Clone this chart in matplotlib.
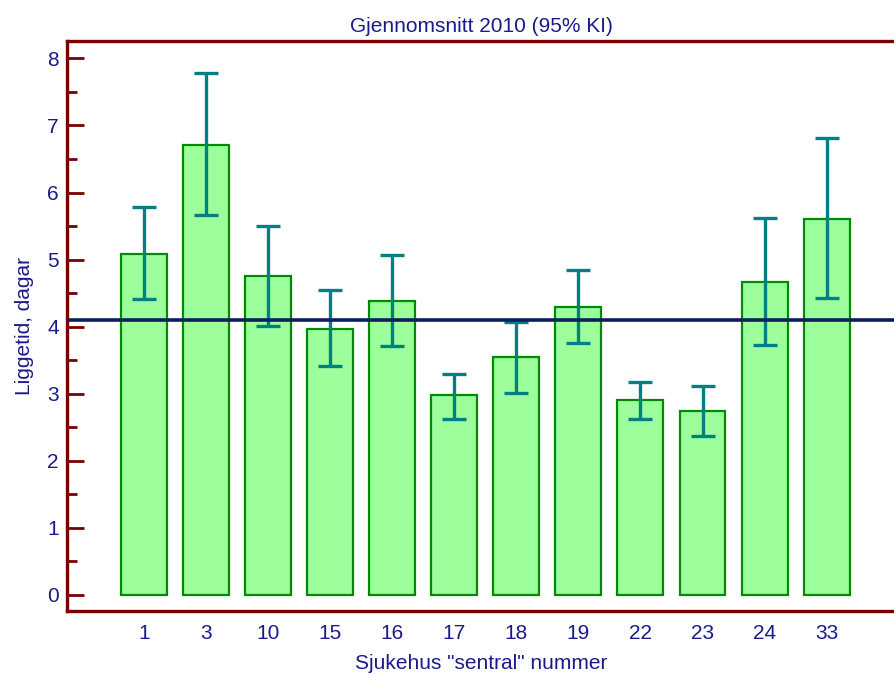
import matplotlib
matplotlib.use("Agg")
import matplotlib.pyplot as plt
from matplotlib.ticker import MultipleLocator

# ==========================================================
# DATI
# ==========================================================
sjukehus = ["1", "3", "10", "15", "16", "17", "18", "19", "22", "23", "24", "33"]
snitt = [5.09, 6.71, 4.75, 3.97, 4.39, 2.98, 3.55, 4.30, 2.90, 2.74, 4.66, 5.61]
ki_lav = [4.41, 5.67, 4.01, 3.41, 3.71, 2.62, 3.01, 3.76, 2.62, 2.37, 3.72, 4.43]
ki_hoy = [5.79, 7.78, 5.50, 4.55, 5.07, 3.30, 4.07, 4.84, 3.18, 3.11, 5.62, 6.82]
total_snitt = 4.10

NAVY = "#1a1a8c"
MAROON = "#7a0000"
FS = 15

plt.rcParams["font.family"] = ["Liberation Sans", "DejaVu Sans"]

fig = plt.figure(figsize=(8.95, 6.75), dpi=100)
ax = fig.add_axes([0.0749, 0.0948, 0.9251, 0.8440])

x = list(range(len(sjukehus)))
err_lo = [m - l for m, l in zip(snitt, ki_lav)]
err_hi = [h - m for m, h in zip(snitt, ki_hoy)]

ax.bar(x, snitt, width=0.74, color="#9cff9c", edgecolor="#008a00",
       linewidth=1.6, zorder=2)
ax.errorbar(x, snitt, yerr=[err_lo, err_hi], fmt="none", ecolor="#008080",
            elinewidth=2.4, capsize=8.3, capthick=2.4, zorder=3)
ax.axhline(total_snitt, color="#0a1f5c", linewidth=2.6, zorder=4)

ax.set_xlim(-1.235, 12.1)
ax.set_ylim(-0.239, 8.254)

ax.set_xticks(x)
ax.set_xticklabels(sjukehus)
ax.yaxis.set_major_locator(MultipleLocator(1))
ax.yaxis.set_minor_locator(MultipleLocator(0.5))

ax.tick_params(axis="x", length=0, pad=9, labelsize=FS, labelcolor=NAVY)
ax.tick_params(axis="y", which="major", direction="in", length=12, width=2,
               color=MAROON, pad=6, labelsize=FS, labelcolor=NAVY)
ax.tick_params(axis="y", which="minor", direction="in", length=7, width=2,
               color=MAROON)

for side in ["left", "top", "bottom"]:
    ax.spines[side].set_color(MAROON)
    ax.spines[side].set_linewidth(2.4)
ax.spines["right"].set_visible(False)

ax.set_title("Gjennomsnitt 2010 (95% KI)", color=NAVY, fontsize=FS, pad=7)
ax.set_xlabel('Sjukehus "sentral" nummer', color=NAVY, fontsize=FS, labelpad=8)
ax.set_ylabel("Liggetid, dagar", color=NAVY, fontsize=FS, labelpad=9)

fig.savefig("out.png", dpi=100)
